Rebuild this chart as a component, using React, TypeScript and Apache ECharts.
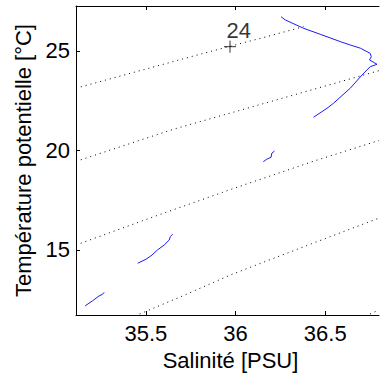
import { useEffect, useRef } from "react";
import * as echarts from "echarts";

// Axis ranges and ticks
const salinityMin = 35.11;
const salinityMax = 36.8;
const temperatureMin = 11.73;
const temperatureMax = 27.26;
const salinityTicks = [35.5, 36, 36.5];
const temperatureTicks = [15, 20, 25];

// Isopycnals (sigma-theta), [salinity, temperature]
const isopycnal24 = [
  [35.11, 23.13],
  [35.82, 24.88],
  [36.174, 25.72],
  [36.379, 26.22],
];
const isopycnal25 = [
  [35.11, 19.45],
  [35.651, 21.06],
  [36.193, 22.45],
  [36.8, 24.01],
];
const isopycnal26 = [
  [35.11, 15.25],
  [35.556, 16.71],
  [35.992, 18.1],
  [36.435, 19.46],
  [36.8, 20.5],
];
const isopycnal27 = [
  [35.465, 11.78],
  [35.705, 12.69],
  [35.979, 13.77],
  [36.435, 15.35],
  [36.8, 16.6],
];
const isopycnal28 = [
  [36.75, 11.78],
  [36.8, 11.98],
];

// Profile segments (blue), [salinity, temperature]
const profileUpper = [
  [36.254, 26.72],
  [36.277, 26.56],
  [36.379, 26.14],
  [36.472, 25.84],
  [36.584, 25.47],
  [36.64, 25.3],
  [36.696, 25.14],
  [36.751, 24.88],
  [36.757, 24.71],
  [36.747, 24.55],
  [36.789, 24.33],
  [36.751, 24.21],
  [36.705, 23.79],
  [36.64, 23.13],
  [36.546, 22.37],
  [36.51, 22.12],
  [36.435, 21.67],
];
const profileMiddle = [
  [36.155, 19.44],
  [36.174, 19.56],
  [36.198, 19.66],
  [36.202, 19.86],
  [36.217, 19.97],
];
const profileLower = [
  [35.454, 14.33],
  [35.5, 14.53],
  [35.528, 14.7],
  [35.565, 15.0],
  [35.602, 15.25],
  [35.63, 15.5],
  [35.636, 15.67],
  [35.649, 15.79],
];
const profileBottom = [
  [35.161, 12.19],
  [35.202, 12.44],
  [35.239, 12.69],
  [35.258, 12.77],
  [35.267, 12.87],
];

const contourLabelPoint = [35.969, 25.216];
const contourLabelText = "24";

const FONT = "Liberation Sans, Arial, sans-serif";
const FONT_SIZE = 22;

export default function App() {
  const ref = useRef<HTMLDivElement>(null);

  useEffect(() => {
    document.body.style.margin = "0";
    const chart = echarts.init(ref.current!, null, { renderer: "svg" });

    const iso = (data: number[][]) => ({
      type: "line",
      data,
      symbol: "none",
      showSymbol: false,
      silent: true,
      lineStyle: { color: "#000", width: 1, type: [1, 4] },
    });
    const prof = (data: number[][]) => ({
      type: "line",
      data,
      symbol: "none",
      showSymbol: false,
      silent: true,
      lineStyle: { color: "#1a1aff", width: 1 },
    });

    const tickStyle = { color: "#000", width: 1 };

    chart.setOption({
      animation: false,
      grid: {
        left: 76,
        top: 6,
        right: 1,
        bottom: 63,
        containLabel: false,
        outerBoundsMode: "none",
      },
      xAxis: [
        {
          type: "value",
          min: salinityMin,
          max: salinityMax,
          position: "bottom",
          axisLine: { show: true, onZero: false, lineStyle: tickStyle },
          axisTick: {
            show: true,
            inside: true,
            length: 4,
            customValues: salinityTicks,
            lineStyle: tickStyle,
          },
          axisLabel: {
            customValues: salinityTicks,
            color: "#000",
            fontSize: FONT_SIZE,
            fontFamily: FONT,
            margin: 7,
            formatter: (v: number) => String(v),
          },
          splitLine: { show: false },
          name: "Salinité [PSU]",
          nameLocation: "middle",
          nameGap: 34,
          nameTextStyle: {
            color: "#000",
            fontSize: FONT_SIZE,
            fontFamily: FONT,
            padding: [0, 0, 0, 6],
          },
        },
        {
          type: "value",
          min: salinityMin,
          max: salinityMax,
          position: "top",
          axisLine: { show: true, onZero: false, lineStyle: tickStyle },
          axisTick: {
            show: true,
            inside: true,
            length: 4,
            customValues: salinityTicks,
            lineStyle: tickStyle,
          },
          axisLabel: { show: false },
          splitLine: { show: false },
        },
      ],
      yAxis: {
        type: "value",
        min: temperatureMin,
        max: temperatureMax,
        axisLine: { show: true, onZero: false, lineStyle: tickStyle },
        axisTick: {
          show: true,
          inside: true,
          length: 4,
          customValues: temperatureTicks,
          lineStyle: tickStyle,
        },
        axisLabel: {
          customValues: temperatureTicks,
          color: "#000",
          fontSize: FONT_SIZE,
          fontFamily: FONT,
          margin: 6,
        },
        splitLine: { show: false },
        name: "Température potentielle [°C]",
        nameLocation: "middle",
        nameGap: 40,
        nameTextStyle: { color: "#000", fontSize: FONT_SIZE, fontFamily: FONT },
      },
      series: [
        iso(isopycnal24),
        iso(isopycnal25),
        iso(isopycnal26),
        iso(isopycnal27),
        iso(isopycnal28),
        prof(profileUpper),
        prof(profileMiddle),
        prof(profileLower),
        prof(profileBottom),
        {
          type: "scatter",
          data: [contourLabelPoint],
          symbol: "path://M0,6H12M6,0V12",
          symbolSize: [12, 12],
          silent: true,
          itemStyle: { color: "none", borderColor: "#000", borderWidth: 1 },
          label: {
            show: true,
            formatter: contourLabelText,
            position: [5, -19],
            align: "left",
            verticalAlign: "top",
            color: "#000",
            fontSize: FONT_SIZE,
            fontFamily: FONT,
          },
        },
      ],
    });

    return () => chart.dispose();
  }, []);

  return <div ref={ref} style={{ width: 380, height: 378 }} />;
}
